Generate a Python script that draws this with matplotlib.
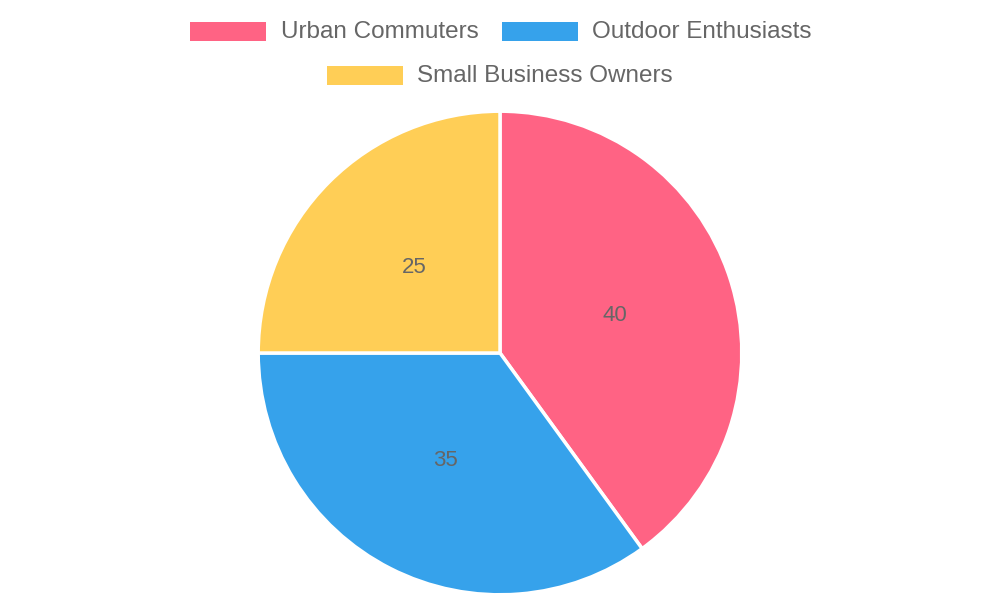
import matplotlib
matplotlib.use("Agg")
import matplotlib.pyplot as plt
from matplotlib.patches import Rectangle

categories = ["Urban Commuters", "Outdoor Enthusiasts", "Small Business Owners"]
values = [40, 35, 25]
colors = ["#FF6384", "#36A2EB", "#FFCE56"]

plt.rcParams['font.family'] = ['Liberation Sans', 'DejaVu Sans']
fig = plt.figure(figsize=(10, 6), dpi=100)
ax = fig.add_axes([0.257, 0.00667, 0.486, 0.81])
ax.pie(values, colors=colors, startangle=90, counterclock=False,
       autopct=lambda p: f"{round(p)}", pctdistance=0.5,
       wedgeprops=dict(edgecolor="white", linewidth=2.5),
       textprops=dict(color="#666666", fontsize=16))
ax.set_aspect("equal")
ax.set_xlim(-1.005, 1.005)
ax.set_ylim(-1.005, 1.005)

# legend: (box left px, box top px, text left px)
legend_pos = [(190, 22, 281), (502, 22, 592), (327, 66, 417)]
for (bx, by, tx), lab, c in zip(legend_pos, categories, colors):
    fig.patches.append(Rectangle((bx / 1000, 1 - (by + 19) / 600), 76 / 1000, 19 / 600,
                                 transform=fig.transFigure, facecolor=c, edgecolor="none"))
    fig.text(tx / 1000, 1 - (by + 10) / 600, lab, ha="left", va="center",
             fontsize=17.5, color="#666666")

fig.savefig("out.png")
